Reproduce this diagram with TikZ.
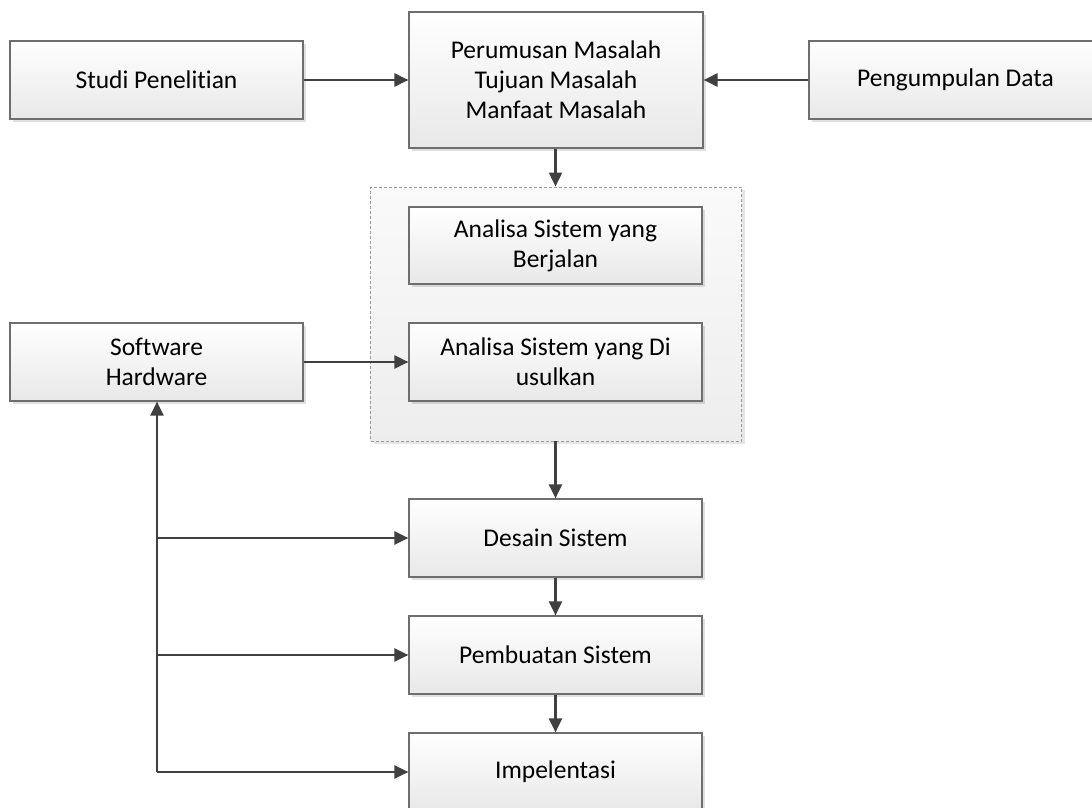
\documentclass[tikz,border=0pt]{standalone}
\usepackage{fontspec}
\setmainfont{Carlito}[Ligatures={NoCommon}]
\usetikzlibrary{arrows.meta,shadows,positioning}
\definecolor{edgegray}{HTML}{6E6E6E}
\definecolor{linkgray}{HTML}{404040}
\definecolor{topfill}{HTML}{FFFFFF}
\definecolor{botfill}{HTML}{E8E8E8}
\tikzset{
  stepbox/.style={draw=edgegray, line width=1.2pt, top color=topfill, bottom color=botfill,
    minimum width=293pt, minimum height=78pt, align=center, inner sep=2pt,
    font=\fontsize{25.5}{30}\selectfont,
    drop shadow={shadow xshift=3pt, shadow yshift=-3pt, fill=black, opacity=0.12}},
  groupbox/.style={draw=gray!80, line width=0.9pt, dash pattern=on 3pt off 2pt,
    top color=white!98!black, bottom color=white!93!black,
    minimum width=371pt, minimum height=254pt,
    drop shadow={shadow xshift=3pt, shadow yshift=-3pt, fill=black, opacity=0.10}},
  link/.style={draw=linkgray, line width=2.2pt, -{Triangle[length=14pt,width=13pt]}}
}
\begin{document}
\begin{tikzpicture}[x=1pt,y=-1pt]
\useasboundingbox (0,0) rectangle (1092,808);

% upper row
\node[stepbox] (studi) at (156.5,80) {Studi Penelitian};
\node[stepbox, minimum width=294pt, minimum height=136pt] (rumus) at (556,80)
  {Perumusan Masalah\\Tujuan Masalah\\Manfaat Masalah};
\node[stepbox] (kumpul) at (955.5,80) {Pengumpulan Data};

% analysis group
\node[groupbox] (grup) at (556,314) {};
\node[stepbox, minimum height=77pt] (jalan) at (555.5,245.5) {Analisa Sistem yang\\Berjalan};
\node[stepbox] (usul) at (555.5,362) {Analisa Sistem yang Di\\usulkan};

\node[stepbox] (soft) at (156.5,362) {Software\\Hardware};

% lower steps
\node[stepbox] (desain) at (555.5,538) {Desain Sistem};
\node[stepbox] (buat) at (555.5,655) {Pembuatan Sistem};
\node[stepbox] (impl) at (555.5,772) {Impelentasi};

% connectors
\draw[link] (studi) -- (rumus);
\draw[link] (kumpul) -- (rumus);
\draw[link] (rumus.south -| desain.north) -- (grup.north -| desain.north);
\draw[link] (soft) -- (usul);
\draw[link] (grup.south -| desain.north) -- (desain.north);
\draw[link] (desain) -- (buat);
\draw[link] (buat) -- (impl);

% feedback bus towards Software/Hardware
\coordinate (bus) at (157,772);
\coordinate (busD) at (157,538);
\coordinate (busP) at (157,655);
\draw[link] (bus) -- (soft.south -| bus);
\draw[link] (bus) -- (impl.west);
\draw[link] (busD) -- (desain.west);
\draw[link] (busP) -- (buat.west);
\end{tikzpicture}
\end{document}
